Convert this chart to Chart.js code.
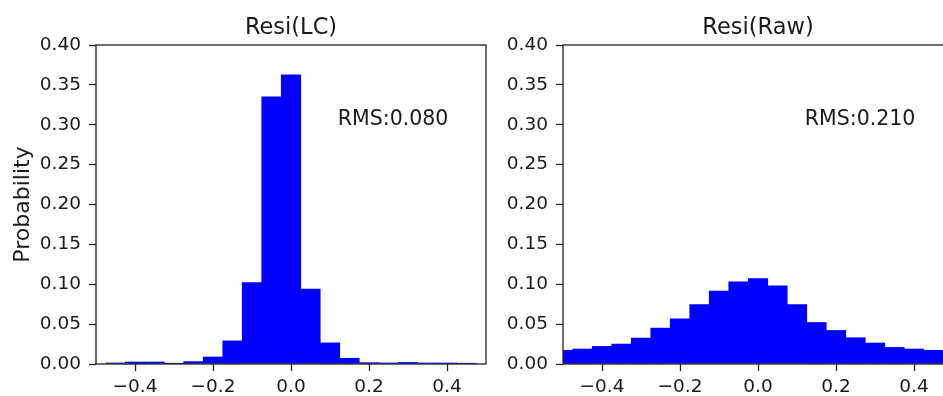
<!DOCTYPE html>
<html>
<head>
<meta charset="utf-8">
<script src="https://cdn.jsdelivr.net/npm/chart.js@4.4.1/dist/chart.umd.min.js"></script>
<style>
  html, body { margin: 0; padding: 0; background: #fff; overflow: hidden; width: 943px; height: 396px; }
  canvas { position: absolute; top: 0; }
  #lcChart { left: 0px; }
  #rawChart { left: 480px; }
</style>
</head>
<body>
<canvas id="lcChart" width="490" height="396"></canvas>
<canvas id="rawChart" width="480" height="396"></canvas>
<script>
// bin centres (width 0.05) and probabilities
const lcCenters = [-0.45, -0.40, -0.35, -0.30, -0.25, -0.20, -0.15, -0.10, -0.05, 0.00,
                   0.05, 0.10, 0.15, 0.20, 0.25, 0.30, 0.35, 0.40, 0.45];
const lcProb = [0.0013, 0.0025, 0.0025, 0.001, 0.003, 0.0088, 0.029, 0.102, 0.335, 0.3625,
                0.094, 0.0265, 0.0072, 0.0017, 0.0013, 0.002, 0.0013, 0.0013, 0.001];

const rawCenters = [-0.50, -0.45, -0.40, -0.35, -0.30, -0.25, -0.20, -0.15, -0.10, -0.05, 0.00,
                    0.05, 0.10, 0.15, 0.20, 0.25, 0.30, 0.35, 0.40, 0.45];
const rawProb = [0.0171, 0.0188, 0.0221, 0.025, 0.0325, 0.045, 0.0567, 0.0746, 0.0913, 0.1029, 0.1071,
                 0.0979, 0.0746, 0.0521, 0.0421, 0.0329, 0.0263, 0.0208, 0.0188, 0.0171];

const xTickValues = [-0.4, -0.2, 0.0, 0.2, 0.4];
const yTickValues = [0, 0.05, 0.10, 0.15, 0.20, 0.25, 0.30, 0.35, 0.40];

const lcTitle = 'Resi(LC)';
const rawTitle = 'Resi(Raw)';
const lcRms = 'RMS:0.080';
const rawRms = 'RMS:0.210';
const rmsPos = { x: 0.12, y: 0.30 };

const FONT = "'DejaVu Sans', sans-serif";
const INK = '#1a1a1a';

// axes box like matplotlib, title centred on the axes, and the RMS note
const framePlugin = {
  id: 'frame',
  afterDatasetsDraw(chart, args, opts) {
    const { ctx, chartArea: a, scales } = chart;
    ctx.save();
    ctx.strokeStyle = '#222';
    ctx.lineWidth = 1.3;
    ctx.strokeRect(a.left, a.top, a.right - a.left, a.bottom - a.top);
    ctx.fillStyle = INK;
    ctx.textBaseline = 'alphabetic';
    ctx.font = "22.5px " + FONT;
    ctx.textAlign = 'center';
    ctx.fillText(opts.title, (a.left + a.right) / 2, 33.5);
    ctx.font = "20.5px " + FONT;
    ctx.textAlign = 'left';
    ctx.fillText(opts.text, scales.x.getPixelForValue(rmsPos.x), scales.y.getPixelForValue(rmsPos.y));
    ctx.restore();
  }
};

function makeChart(id, centers, probs, title, rms, yWidth, padRight, yLabel) {
  return new Chart(document.getElementById(id), {
    type: 'bar',
    data: {
      datasets: [{
        data: centers.map((c, i) => ({ x: c, y: probs[i] })),
        backgroundColor: '#0000ff',
        borderWidth: 0,
        barPercentage: 1,
        categoryPercentage: 1
      }]
    },
    options: {
      responsive: false,
      animation: false,
      layout: { padding: { left: 0, right: padRight, top: 45, bottom: 0 } },
      plugins: {
        legend: { display: false },
        tooltip: { enabled: false },
        title: { display: false },
        frame: { text: rms, title: title }
      },
      scales: {
        x: {
          type: 'linear', min: -0.5, max: 0.5, offset: false,
          afterBuildTicks: s => { s.ticks = xTickValues.map(v => ({ value: v })); },
          afterFit: s => { s.height = 32; },
          border: { display: false },
          grid: { offset: false, drawOnChartArea: false, tickLength: 7, tickColor: '#222', tickWidth: 1.3 },
          ticks: {
            color: INK, padding: 5, maxRotation: 0, autoSkip: false,
            font: { family: FONT, size: 18.5 },
            callback: v => v.toFixed(1).replace('-', '\u2212')
          }
        },
        y: {
          min: 0, max: 0.4,
          afterBuildTicks: s => { s.ticks = yTickValues.map(v => ({ value: v })); },
          afterFit: s => { s.width = yWidth; },
          border: { display: false },
          grid: { drawOnChartArea: false, tickLength: 7, tickColor: '#222', tickWidth: 1.3 },
          ticks: {
            color: INK, padding: 8, autoSkip: false,
            font: { family: FONT, size: 18.5 },
            callback: v => v.toFixed(2)
          },
          title: {
            display: !!yLabel, text: yLabel || '', color: INK,
            font: { family: FONT, size: 22 },
            padding: { top: 10, bottom: 0 }
          }
        }
      }
    },
    plugins: [framePlugin]
  });
}

makeChart('lcChart', lcCenters, lcProb, lcTitle, lcRms, 96, 4, 'Probability');
makeChart('rawChart', rawCenters, rawProb, rawTitle, rawRms, 83, 7, null);
</script>
</body>
</html>
